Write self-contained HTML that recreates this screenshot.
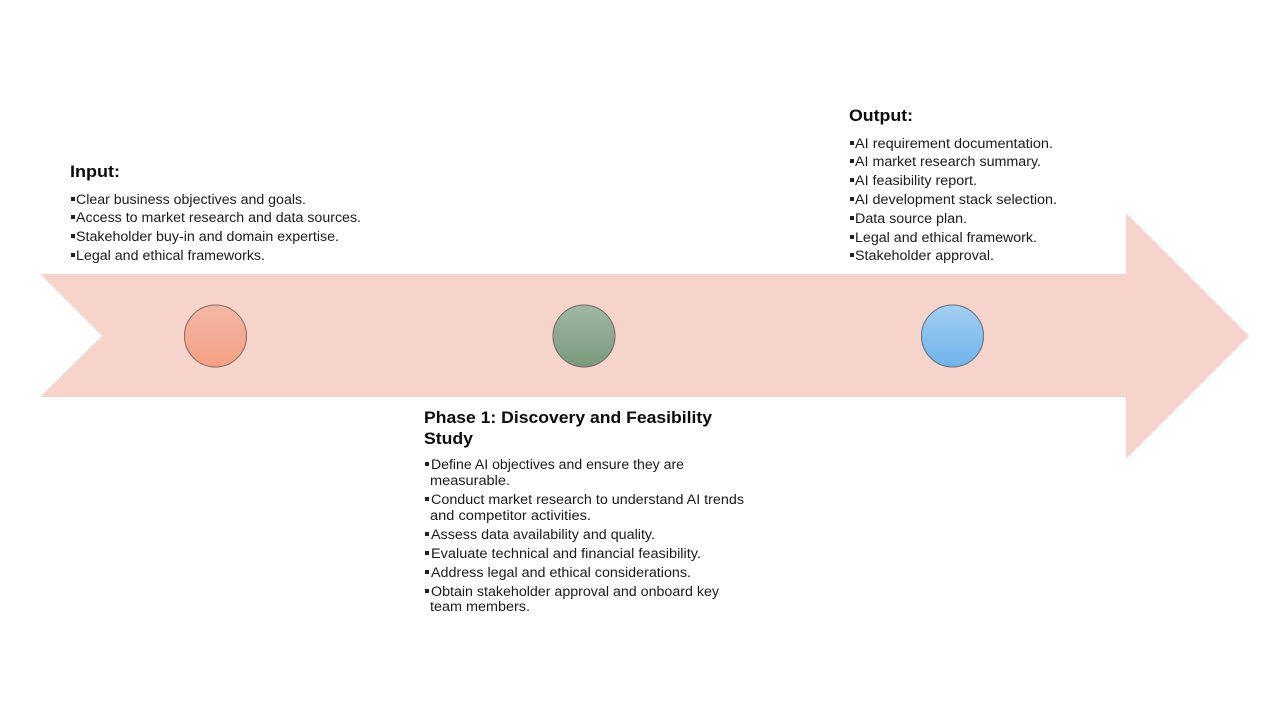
<!DOCTYPE html>
<html lang="en">
<head>
<meta charset="utf-8">
<title>Phase 1: Discovery and Feasibility Study</title>
<style>
  html, body { margin: 0; padding: 0; background: #ffffff; }
  svg { display: block; }
  text { font-family: "Liberation Sans", sans-serif; fill: #1a1a1a; }
  .h { font-size: 17px; font-weight: bold; fill: #0c0c0c; }
  .b { font-size: 13.4px; }
  .m { fill: #222222; }
</style>
</head>
<body>
<svg width="1280" height="720" viewBox="0 0 1280 720" xmlns="http://www.w3.org/2000/svg">
  <defs>
    <linearGradient id="gOrange" x1="0" y1="0" x2="0" y2="1"><stop offset="0" stop-color="#f3b7a5"/><stop offset="1" stop-color="#f5a084"/></linearGradient>
    <linearGradient id="gGreen" x1="0" y1="0" x2="0" y2="1"><stop offset="0" stop-color="#a1b8a3"/><stop offset="1" stop-color="#7b9a7d"/></linearGradient>
    <linearGradient id="gBlue" x1="0" y1="0" x2="0" y2="1"><stop offset="0" stop-color="#a3cff2"/><stop offset="1" stop-color="#70b3ea"/></linearGradient>
  </defs>

  <rect x="0" y="0" width="1280" height="720" fill="#ffffff"/>
  <polygon points="40,274 1126,274 1126,213 1249,336 1126,459 1126,397 40,397 102,336" fill="#f6d4cc"/>

  <circle cx="215.5" cy="336" r="31" fill="url(#gOrange)" stroke="#7d6660" stroke-width="1"/>
  <circle cx="584" cy="336" r="31" fill="url(#gGreen)" stroke="#6d6660" stroke-width="1"/>
  <circle cx="952.5" cy="336" r="31" fill="url(#gBlue)" stroke="#5f6a78" stroke-width="1"/>

  <g>
    <text class="h" x="70" y="177" textLength="50" lengthAdjust="spacingAndGlyphs">Input:</text>
    <rect class="m" x="71" y="197" width="4" height="4"/>
    <text class="b" x="76" y="204" textLength="230" lengthAdjust="spacingAndGlyphs">Clear business objectives and goals.</text>
    <rect class="m" x="71" y="215" width="4" height="4"/>
    <text class="b" x="76" y="222" textLength="285" lengthAdjust="spacingAndGlyphs">Access to market research and data sources.</text>
    <rect class="m" x="71" y="234" width="4" height="4"/>
    <text class="b" x="76" y="241" textLength="263" lengthAdjust="spacingAndGlyphs">Stakeholder buy-in and domain expertise.</text>
    <rect class="m" x="71" y="253" width="4" height="4"/>
    <text class="b" x="76" y="260" textLength="189" lengthAdjust="spacingAndGlyphs">Legal and ethical frameworks.</text>
  </g>

  <g>
    <text class="h" x="424" y="423" textLength="288" lengthAdjust="spacingAndGlyphs">Phase 1: Discovery and Feasibility</text>
    <text class="h" x="424" y="444" textLength="49" lengthAdjust="spacingAndGlyphs">Study</text>

    <rect class="m" x="425" y="462" width="4" height="4"/>
    <text class="b" x="431" y="469" textLength="253" lengthAdjust="spacingAndGlyphs">Define AI objectives and ensure they are</text>
    <text class="b" x="430" y="485" textLength="80" lengthAdjust="spacingAndGlyphs">measurable.</text>

    <rect class="m" x="425" y="497" width="4" height="4"/>
    <text class="b" x="431" y="504" textLength="313" lengthAdjust="spacingAndGlyphs">Conduct market research to understand AI trends</text>
    <text class="b" x="430" y="520" textLength="161" lengthAdjust="spacingAndGlyphs">and competitor activities.</text>

    <rect class="m" x="425" y="532" width="4" height="4"/>
    <text class="b" x="431" y="539" textLength="224" lengthAdjust="spacingAndGlyphs">Assess data availability and quality.</text>

    <rect class="m" x="425" y="551" width="4" height="4"/>
    <text class="b" x="431" y="558" textLength="270" lengthAdjust="spacingAndGlyphs">Evaluate technical and financial feasibility.</text>

    <rect class="m" x="425" y="570" width="4" height="4"/>
    <text class="b" x="431" y="577" textLength="260" lengthAdjust="spacingAndGlyphs">Address legal and ethical considerations.</text>

    <rect class="m" x="425" y="589" width="4" height="4"/>
    <text class="b" x="431" y="596" textLength="288" lengthAdjust="spacingAndGlyphs">Obtain stakeholder approval and onboard key</text>
    <text class="b" x="430" y="611" textLength="100" lengthAdjust="spacingAndGlyphs">team members.</text>
  </g>

  <g>
    <text class="h" x="849" y="121" textLength="64" lengthAdjust="spacingAndGlyphs">Output:</text>
    <rect class="m" x="850" y="141" width="4" height="4"/>
    <text class="b" x="855" y="148" textLength="198" lengthAdjust="spacingAndGlyphs">AI requirement documentation.</text>
    <rect class="m" x="850" y="159" width="4" height="4"/>
    <text class="b" x="855" y="166" textLength="186" lengthAdjust="spacingAndGlyphs">AI market research summary.</text>
    <rect class="m" x="850" y="178" width="4" height="4"/>
    <text class="b" x="855" y="185" textLength="122" lengthAdjust="spacingAndGlyphs">AI feasibility report.</text>
    <rect class="m" x="850" y="197" width="4" height="4"/>
    <text class="b" x="855" y="204" textLength="202" lengthAdjust="spacingAndGlyphs">AI development stack selection.</text>
    <rect class="m" x="850" y="216" width="4" height="4"/>
    <text class="b" x="855" y="223" textLength="112" lengthAdjust="spacingAndGlyphs">Data source plan.</text>
    <rect class="m" x="850" y="235" width="4" height="4"/>
    <text class="b" x="855" y="242" textLength="182" lengthAdjust="spacingAndGlyphs">Legal and ethical framework.</text>
    <rect class="m" x="850" y="253" width="4" height="4"/>
    <text class="b" x="855" y="260" textLength="139" lengthAdjust="spacingAndGlyphs">Stakeholder approval.</text>
  </g>
</svg>
</body>
</html>
